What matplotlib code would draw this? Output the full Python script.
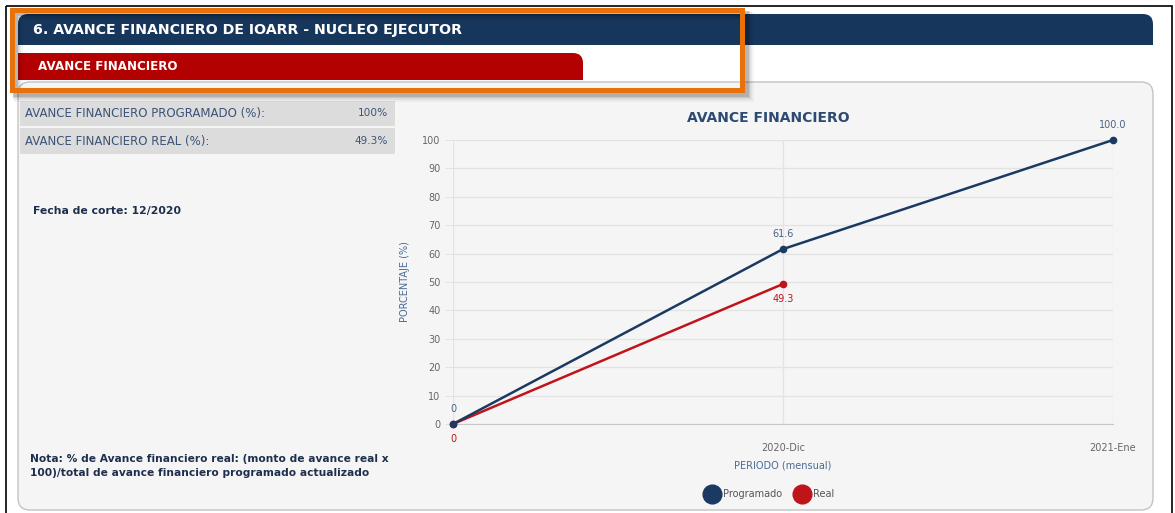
import matplotlib.pyplot as plt
from matplotlib.patches import Rectangle, FancyBboxPatch
from matplotlib.lines import Line2D
from matplotlib.transforms import Affine2D

# data
periodos = ['', '2020-Dic', '2021-Ene']
programado = [0, 61.6, 100.0]
real = [0, 49.3]
resumen_labels = ['AVANCE FINANCIERO PROGRAMADO (%):', 'AVANCE FINANCIERO REAL (%):']
resumen_values = ['100%', '49.3%']

NAVY = '#1b3a61'
RED = '#c0141b'
TXT = '#3c5378'

W, H = 1175, 513
fig = plt.figure(figsize=(W / 100, H / 100), dpi=100)
fig.patch.set_facecolor('white')

# pixel coordinates, origin at the top left corner
px = Affine2D().scale(1 / W, -1 / H).translate(0, 1) + fig.transFigure


def add(p):
    p.set_transform(px)
    fig.patches.append(p)
    return p


def rbox(x0, y0, x1, y1, r, **kw):
    return add(FancyBboxPatch((x0, y0), x1 - x0, y1 - y0,
                              boxstyle=f'round,pad=0,rounding_size={r}', **kw))


def box(x0, y0, x1, y1, **kw):
    return add(Rectangle((x0, y0), x1 - x0, y1 - y0, **kw))


# outer frame
box(6, 6, 1172, 530, fill=False, ec='black', lw=1.2, zorder=1)

# panel
rbox(18, 82, 1153, 510, 12, fc='#f5f5f5', ec='#c4c4c4', lw=1.0, zorder=1)

# dark header
rbox(18, 14, 1153, 45, 10, fc='#17365c', ec='none', zorder=2)
box(18, 30, 1153, 45, fc='#17365c', ec='none', zorder=2)
fig.text(33 / W, 1 - 30 / H, '6. AVANCE FINANCIERO DE IOARR - NUCLEO EJECUTOR',
         color='white', fontsize=10.2, fontweight='bold', va='center', ha='left', zorder=5)

# red tab
rbox(18, 53, 583, 80, 10, fc='#b30000', ec='none', zorder=2)
box(18, 66, 583, 80, fc='#b30000', ec='none', zorder=2)
box(18, 53, 40, 80, fc='#b30000', ec='none', zorder=2)
fig.text(38 / W, 1 - 66 / H, 'AVANCE FINANCIERO', color='white', fontsize=8.6,
         fontweight='bold', va='center', ha='left', zorder=5)

# orange highlight box with a soft shadow
for i, a in enumerate([0.12, 0.09, 0.06, 0.04]):
    box(15 + i, 13 + i, 746 + i, 94 + i, fill=False, ec='black', lw=3.5 + i, alpha=a, zorder=3)
box(12, 10, 742, 90, fill=False, ec='#e8710a', lw=3.6, zorder=4)

# summary rows
rows_y = [(101, 126), (128, 154)]
for (y0, y1), lab, val in zip(rows_y, resumen_labels, resumen_values):
    box(20, y0, 395, y1, fc='#dcdcdc', ec='none', zorder=2)
    fig.text(25 / W, 1 - (y0 + y1) / 2 / H, lab, color=TXT, fontsize=8.5,
             va='center', ha='left', zorder=5)
    fig.text(388 / W, 1 - (y0 + y1) / 2 / H, val, color=TXT, fontsize=7.6,
             va='center', ha='right', zorder=5)

fig.text(33 / W, 1 - 211 / H, 'Fecha de corte: 12/2020', color='#1e2f4d',
         fontsize=7.8, fontweight='bold', va='center', ha='left')
fig.text(30 / W, 1 - 466 / H,
         'Nota: % de Avance financiero real: (monto de avance real x\n'
         '100)/total de avance financiero programado actualizado',
         color='#1e2f4d', fontsize=7.7, fontweight='bold', va='center', ha='left',
         linespacing=1.6)

# chart
x0, x1, yb, yt = 453, 1113, 424, 140
ax = fig.add_axes([x0 / W, 1 - yb / H, (x1 - x0) / W, (yb - yt) / H])
ax.set_zorder(6)
ax.set_facecolor('none')
ax.set_xlim(0, 2)
ax.set_ylim(0, 100)
ax.set_yticks(range(0, 101, 10))
ax.set_xticks(range(len(periodos)))
ax.set_xticklabels(periodos)
for s in ['top', 'right', 'left']:
    ax.spines[s].set_visible(False)
ax.spines['bottom'].set_color('#c8c8c8')
ax.grid(True, color='#e3e3e3', lw=0.9)
ax.set_axisbelow(True)
ax.tick_params(axis='y', length=6, color='#e3e3e3', labelsize=7, labelcolor='#666666', pad=3)
ax.tick_params(axis='x', length=0, labelsize=7, labelcolor='#666666', pad=14)

xp = list(range(len(programado)))
xr = list(range(len(real)))
ax.plot(xp, programado, color=NAVY, lw=1.8, marker='o', ms=4.5, clip_on=False, zorder=4)
ax.plot(xr, real, color=RED, lw=1.8, marker='o', ms=4.5, clip_on=False, zorder=3)


def fmt(v):
    return '0' if v == 0 else f'{v:.1f}'


for x, v in zip(xp, programado):
    ax.annotate(fmt(v), (x, v), xytext=(0, 11), textcoords='offset points',
                ha='center', va='center', fontsize=7, color='#4a6284', annotation_clip=False)
for x, v in zip(xr, real):
    ax.annotate(fmt(v), (x, v), xytext=(0, -11), textcoords='offset points',
                ha='center', va='center', fontsize=7, color=RED, annotation_clip=False)

fig.text(768 / W, 1 - 118 / H, 'AVANCE FINANCIERO', color='#2c4a72', fontsize=10,
         fontweight='bold', ha='center', va='center', zorder=7)
fig.text(405 / W, 1 - 282 / H, 'PORCENTAJE (%)', color='#4a6a96', fontsize=7,
         rotation=90, ha='center', va='center', zorder=7)
fig.text(783 / W, 1 - 466 / H, 'PERIODO (mensual)', color='#4a6a96', fontsize=7,
         ha='center', va='center', zorder=7)

handles = [Line2D([], [], ls='none', marker='o', ms=13.5, color=NAVY, label='Programado'),
           Line2D([], [], ls='none', marker='o', ms=13.5, color=RED, label='Real')]
leg = fig.legend(handles=handles, loc='center', bbox_to_anchor=(768 / W, 1 - 494 / H), ncol=2,
                 frameon=False, fontsize=7, labelcolor='#555555', handlelength=2.0,
                 handletextpad=0.15, columnspacing=1.0)
leg.set_zorder(7)

fig.savefig('out.png', dpi=100, facecolor='white')
